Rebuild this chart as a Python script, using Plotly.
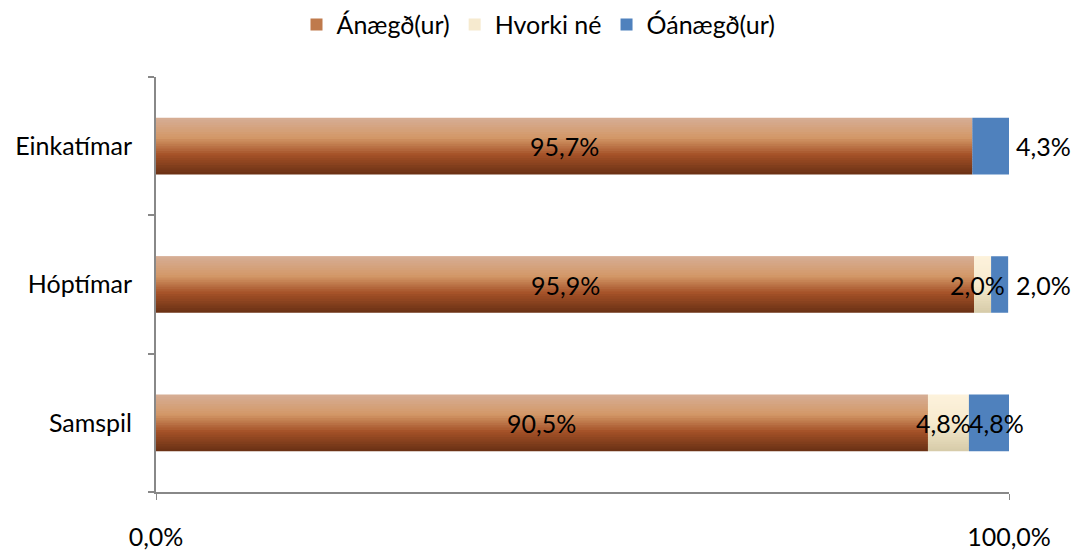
import plotly.graph_objects as go

categories = ["Samspil", "Hóptímar", "Einkatímar"]  # bottom to top
anaegd = [90.5, 95.9, 95.7]
hvorki = [4.8, 2.0, 0.0]
oanaegd = [4.8, 2.0, 4.3]
series_names = ["Ánægð(ur)", "Hvorki né", "Óánægð(ur)"]
x_tick_vals = [0, 100]
x_tick_text = ["0,0%", "100,0%"]

FONT = "Lato"
FS = 25
BAR_W = 0.41
N = 24

brown_stops = [(0.0, (104, 48, 20)), (0.35, (165, 82, 40)), (0.65, (211, 152, 104)), (1.0, (214, 174, 150))]
cream_stops = [(0.0, (214, 203, 168)), (0.5, (246, 234, 206)), (1.0, (253, 242, 220))]


def interp(stops, t):
    for (t0, c0), (t1, c1) in zip(stops[:-1], stops[1:]):
        if t0 <= t <= t1:
            f = (t - t0) / (t1 - t0) if t1 > t0 else 0
            return "rgb(%d,%d,%d)" % tuple(round(a + (b - a) * f) for a, b in zip(c0, c1))
    return "rgb(%d,%d,%d)" % stops[-1][1]


def fmt(v):
    return ("%.1f%%" % v).replace(".", ",")


fig = go.Figure()

base_h = anaegd
base_o = [a + h for a, h in zip(anaegd, hvorki)]

slice_w = BAR_W / N
for name, vals, base, stops in [
    (series_names[0], anaegd, [0, 0, 0], brown_stops),
    (series_names[1], hvorki, base_h, cream_stops),
]:
    for i in range(N):
        t = (i + 0.5) / N
        w = slice_w * (1.8 if i < N - 1 else 1.0)
        fig.add_trace(go.Bar(
            y=categories, x=vals, base=base, orientation="h",
            width=w, offset=-BAR_W / 2 + i * slice_w,
            marker=dict(color=interp(stops, t), line=dict(width=0)),
            name=name, legendgroup=name, showlegend=(i == N // 2),
            hoverinfo="skip",
        ))

fig.add_trace(go.Bar(
    y=categories, x=oanaegd, base=base_o, orientation="h",
    width=BAR_W, marker=dict(color="#4F81BD", line=dict(width=0)),
    name=series_names[2], legendgroup=series_names[2], hoverinfo="skip",
))

annotations = []
for c, a in zip(categories, anaegd):
    annotations.append(dict(x=a / 2, y=c, text=fmt(a), showarrow=False))
for c, a, h in zip(categories, anaegd, hvorki):
    if h > 0:
        annotations.append(dict(x=a + h / 2, y=c, text=fmt(h), showarrow=False, xshift=-5))
for c, b, o in zip(categories, base_o, oanaegd):
    if c == "Samspil":
        annotations.append(dict(x=b + o / 2, y=c, text=fmt(o), showarrow=False, xshift=7))
    else:
        annotations.append(dict(x=100, y=c, text=fmt(o), showarrow=False, xanchor="left", xshift=5))
for an in annotations:
    an["font"] = dict(family=FONT, size=FS, color="black")

fig.update_layout(
    barmode="overlay",
    width=1077, height=550,
    margin=dict(l=156, r=68, t=77, b=58, autoexpand=False),
    paper_bgcolor="white", plot_bgcolor="white",
    font=dict(family=FONT, size=FS, color="black"),
    annotations=annotations,
    legend=dict(orientation="h", x=0.5, xanchor="center", xref="container",
                y=0.955, yanchor="middle", yref="container",
                font=dict(family=FONT, size=FS), traceorder="normal"),
    xaxis=dict(range=[0, 100], tickvals=x_tick_vals, ticktext=x_tick_text,
               showgrid=True, gridcolor="#888888", gridwidth=2,
               showline=True, linecolor="#888888", linewidth=2,
               ticks="outside", ticklen=6, tickcolor="#888888", tickwidth=1,
               ticklabelstandoff=16, zeroline=False, fixedrange=True, automargin=False),
    yaxis=dict(categoryorder="array", categoryarray=categories, range=[-0.5, 2.5],
               showline=True, linecolor="#888888", linewidth=2,
               ticks="outside", ticklen=6, tickcolor="#888888", tickwidth=2,
               tickson="boundaries", ticklabelstandoff=17, showgrid=False, automargin=False),
)

fig.write_html("out.html", config={"displayModeBar": False},
               post_script="document.body.style.margin='0';")
